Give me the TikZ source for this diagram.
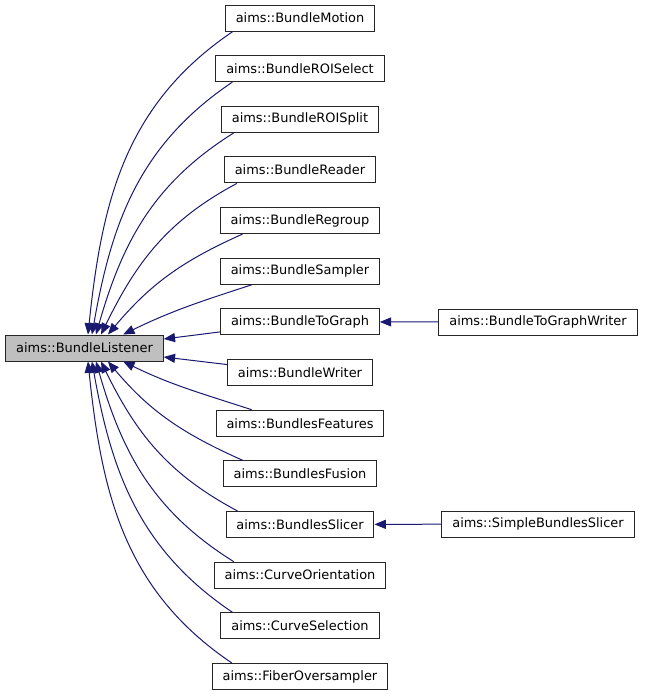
\documentclass[tikz,border=0pt]{standalone}
\usepackage{fontspec}
\setmainfont{DejaVu Sans}
\usetikzlibrary{arrows.meta}
\definecolor{edgeblue}{HTML}{191970}

\begin{document}
\begin{tikzpicture}[x=0.75pt, y=-0.75pt
    , cls/.style={draw=black!85, line width=0.75pt, minimum height=19.5pt,
        inner xsep=7.8pt, inner ysep=0pt, font=\fontsize{9.7}{11}\selectfont}
    , baseclass/.style={cls, fill=black!25}
    , inherit/.style={draw=edgeblue, line width=0.75pt,
        {Triangle[length=8.5pt,width=6.8pt]}-}
    ]
    \useasboundingbox (0,0) rectangle (644,696);

    \node[baseclass] (listener) at (84.5,348) {aims::BundleListener};

    % derived classes, one column
    \foreach \name/\cname [count=\i from 0] in {motion/BundleMotion,
        roiselect/BundleROISelect, roisplit/BundleROISplit, reader/BundleReader,
        regroup/BundleRegroup, sampler/BundleSampler, tograph/BundleToGraph,
        writer/BundleWriter, features/BundlesFeatures, fusion/BundlesFusion,
        slicer/BundlesSlicer, curveorient/CurveOrientation,
        curvesel/CurveSelection, fiberover/FiberOversampler}
      \node[cls] (\name) at (300,18+50.65*\i) {aims::\cname};

    \node[cls] (tographwriter) at (538,322) {aims::BundleToGraphWriter};
    \node[cls] (simpleslicer) at (538,524) {aims::SimpleBundlesSlicer};

    % upper half
    \draw[inherit] ([xshift=2.6pt]listener.north) to[out=84, in=214] ([xshift=6pt]motion.south west);
    \draw[inherit] ([xshift=5.6pt]listener.north) to[out=80, in=214] ([xshift=12.7pt]roiselect.south west);
    \draw[inherit] ([xshift=8.6pt]listener.north) to[out=74, in=212] ([xshift=9.7pt]roisplit.south west);
    \draw[inherit] ([xshift=12.4pt]listener.north) to[out=64, in=208] ([xshift=9.7pt]reader.south west);
    \draw[inherit] ([xshift=17.6pt]listener.north) to[out=50, in=204] ([xshift=17pt]regroup.south west);
    \draw[inherit] ([xshift=29pt]listener.north) to[out=26, in=198] ([xshift=24pt]sampler.south west);
    \draw[inherit] ([yshift=6.75pt]listener.east) -- ([yshift=-7.5pt]tograph.west);
    \draw[inherit] ([yshift=-6.75pt]listener.east) -- ([yshift=6pt]writer.west);
    % lower half
    \draw[inherit] ([xshift=29pt]listener.south) to[out=-26, in=162] ([xshift=27pt]features.north west);
    \draw[inherit] ([xshift=17.6pt]listener.south) to[out=-50, in=156] ([xshift=15pt]fusion.north west);
    \draw[inherit] ([xshift=12.4pt]listener.south) to[out=-64, in=152] ([xshift=9pt]slicer.north west);
    \draw[inherit] ([xshift=8.6pt]listener.south) to[out=-74, in=148] ([xshift=15pt]curveorient.north west);
    \draw[inherit] ([xshift=5.6pt]listener.south) to[out=-80, in=146] ([xshift=9pt]curvesel.north west);
    \draw[inherit] ([xshift=2.6pt]listener.south) to[out=-84, in=146] ([xshift=15pt]fiberover.north west);

    % second level
    \draw[inherit] (tograph) -- (tographwriter);
    \draw[inherit] (slicer) -- (simpleslicer);
  \end{tikzpicture}
\end{document}
